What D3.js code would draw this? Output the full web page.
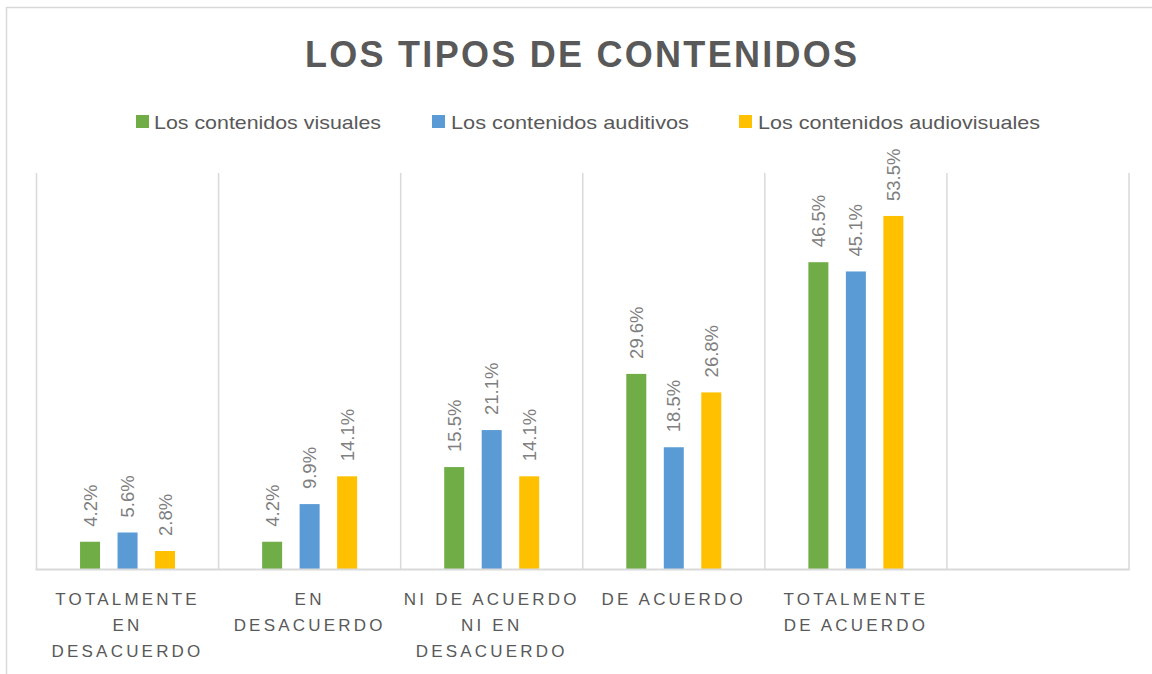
<!DOCTYPE html>
<html>
<head>
<meta charset="utf-8">
<script src="https://cdnjs.cloudflare.com/ajax/libs/d3/7.8.5/d3.min.js"></script>
<style>
  html, body { margin: 0; padding: 0; background: #fff; }
  svg { display: block; }
</style>
</head>
<body>
<svg id="chart" width="1152" height="674"></svg>
<script>
const title = "LOS TIPOS DE CONTENIDOS";
const categories = ["TOTALMENTE EN DESACUERDO", "EN DESACUERDO", "NI DE ACUERDO NI EN DESACUERDO", "DE ACUERDO", "TOTALMENTE DE ACUERDO", ""];
const seriesNames = ["Los contenidos visuales", "Los contenidos auditivos", "Los contenidos audiovisuales"];
const seriesColors = ["#70ad47", "#5b9bd5", "#ffc000"];
const visuales = [4.2, 4.2, 15.5, 29.6, 46.5, null];
const auditivos = [5.6, 9.9, 21.1, 18.5, 45.1, null];
const audiovisuales = [2.8, 14.1, 14.1, 26.8, 53.5, null];
const yDomain = [0, 60];

const seriesValues = [visuales, auditivos, audiovisuales];
const svg = d3.select("#chart");
const plot = {left: 36.5, right: 1129, top: 173, bottom: 569.5};
const fontFam = "'Liberation Sans', Arial, sans-serif";

// chart area border
svg.append("rect").attr("x", 6.5).attr("y", 7.5).attr("width", 1160).attr("height", 700)
  .attr("fill", "none").attr("stroke", "#d9d9d9").attr("stroke-width", 1.5);

// Title
svg.append("text").attr("x", 581).attr("y", 67).attr("text-anchor", "middle")
  .attr("font-family", fontFam).attr("font-weight", "bold").attr("font-size", 36)
  .attr("fill", "#595959").attr("textLength", 552).attr("lengthAdjust", "spacing")
  .text(title);

// Legend
const legendItems = [
  {sx: 136, tx: 154, tw: 227},
  {sx: 432, tx: 451, tw: 238},
  {sx: 739, tx: 758, tw: 282}
];
const legend = svg.append("g");
seriesNames.forEach((name, i) => {
  const it = legendItems[i];
  legend.append("rect").attr("x", it.sx).attr("y", 115).attr("width", 13).attr("height", 13)
    .attr("fill", seriesColors[i]);
  legend.append("text").attr("x", it.tx).attr("y", 128.5)
    .attr("font-family", fontFam).attr("font-size", 19).attr("fill", "#595959")
    .attr("textLength", it.tw).attr("lengthAdjust", "spacingAndGlyphs")
    .text(name);
});

// Scales
const x0 = d3.scaleBand().domain(d3.range(categories.length)).range([plot.left, plot.right]).padding(0);
const bw = x0.bandwidth();
const groupHalf = 47.5;
const x1 = d3.scaleBand().domain(d3.range(seriesNames.length))
  .range([bw / 2 - groupHalf, bw / 2 + groupHalf]).paddingInner(0.4667).paddingOuter(0);
const y = d3.scaleLinear().domain(yDomain).range([plot.bottom, plot.top]);

// vertical gridlines (category separators)
const grid = svg.append("g");
d3.range(categories.length + 1).forEach(i => {
  const gx = i < categories.length ? x0(i) : plot.right;
  grid.append("line").attr("x1", gx).attr("x2", gx).attr("y1", plot.top).attr("y2", plot.bottom)
    .attr("stroke", "#d9d9d9").attr("stroke-width", 1.5);
});

// Bars
const bars = svg.append("g");
categories.forEach((c, ci) => {
  seriesValues.forEach((vals, si) => {
    const v = vals[ci];
    if (v == null) return;
    const bx = x0(ci) + x1(si);
    bars.append("rect").attr("x", bx).attr("y", y(v)).attr("width", x1.bandwidth())
      .attr("height", y(0) - y(v)).attr("fill", seriesColors[si]);
    const cx = bx + x1.bandwidth() / 2;
    const ly = y(v) - 15;
    bars.append("text").attr("transform", `translate(${cx + 6.5},${ly}) rotate(-90)`)
      .attr("font-family", fontFam).attr("font-size", 18.5).attr("fill", "#7f7f7f")
      .attr("text-anchor", "start").text(v.toFixed(1) + "%");
  });
});

// baseline
svg.append("line").attr("x1", plot.left - 1).attr("x2", plot.right + 0.75).attr("y1", plot.bottom).attr("y2", plot.bottom)
  .attr("stroke", "#d9d9d9").attr("stroke-width", 2);

// Category labels with wrapping
const xAxis = d3.axisBottom(x0).tickSize(0).tickFormat(i => categories[i]);
const axisG = svg.append("g").attr("transform", `translate(0,${plot.bottom})`).call(xAxis);
axisG.select(".domain").remove();
axisG.selectAll(".tick text").each(function(i) {
  const t = d3.select(this);
  const words = categories[i].split(" ").filter(w => w);
  t.text(null).attr("font-family", fontFam).attr("font-size", 17).attr("fill", "#595959")
    .attr("letter-spacing", "3.2px").attr("y", 0).attr("dy", null);
  const maxW = bw - 5;
  let lines = [];
  let cur = [];
  const probe = t.append("tspan");
  words.forEach(w => {
    const test = cur.concat([w]).join(" ");
    probe.text(test);
    if (probe.node().getComputedTextLength() > maxW && cur.length) {
      lines.push(cur.join(" "));
      cur = [w];
    } else cur.push(w);
  });
  if (cur.length) lines.push(cur.join(" "));
  probe.remove();
  lines.forEach((ln, li) => {
    t.append("tspan").attr("x", 0).attr("y", 35 + li * 26).text(ln);
  });
});
</script>
</body>
</html>
